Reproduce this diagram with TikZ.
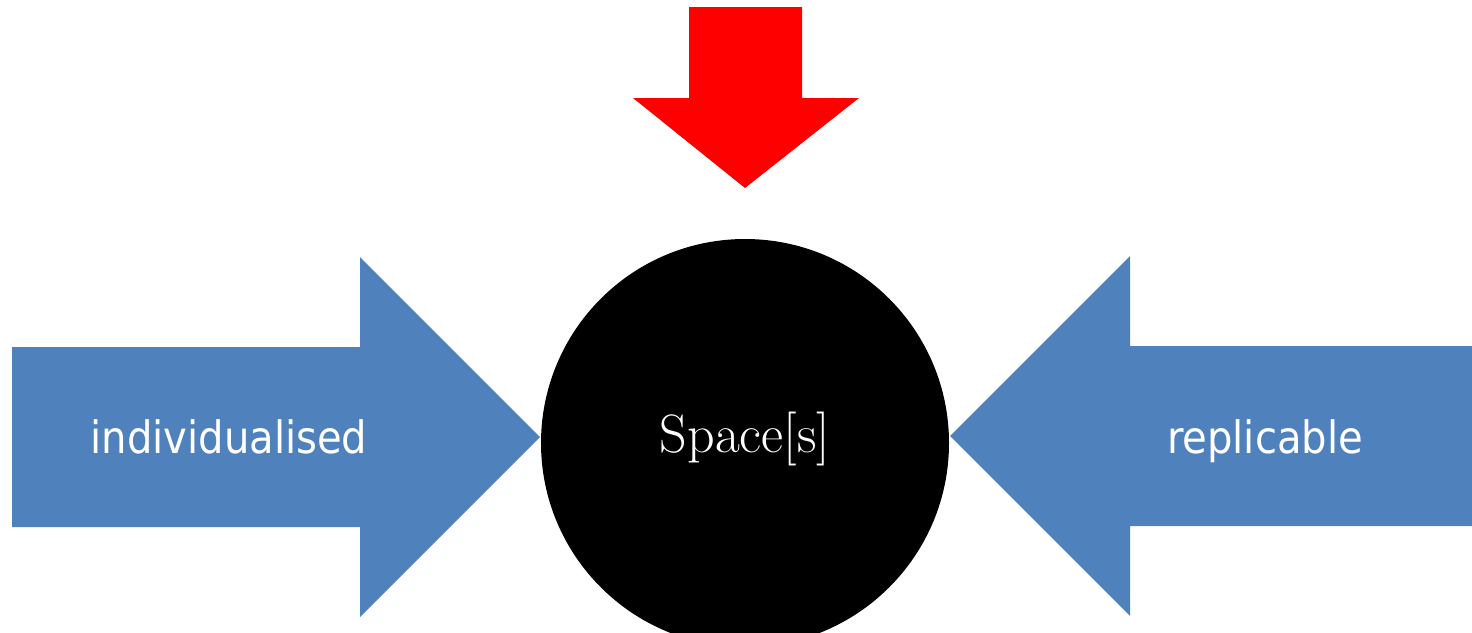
\documentclass[tikz,border=0pt]{standalone}
\usepackage{fontspec}
\newfontfamily\labelfont{DejaVu Sans Condensed}
\definecolor{arrowblue}{HTML}{4F81BD}
\definecolor{arrowred}{HTML}{FF0000}
\tikzset{
  bluearrow/.style={fill=arrowblue},
  redarrow/.style={fill=arrowred},
  sidelabel/.style={anchor=base, text=white, inner sep=0pt, font=\labelfont\fontsize{22.3}{26}\selectfont},
  centrelabel/.style={anchor=base, text=white, inner sep=0pt, font=\fontsize{27}{31}\selectfont}
}
\begin{document}
\begin{tikzpicture}[x=0.5pt,y=-0.5pt]
\path[use as bounding box, clip] (0,0) rectangle (1472,632);
% red arrow (down)
\path[redarrow] (689,7) -- (802,7) -- (802,98) -- (859,98) -- (745,188) -- (633,98) -- (689,98) -- cycle;
% left blue arrow
\path[bluearrow] (12,347) -- (360,347) -- (360,257) -- (540,437) -- (360,617) -- (360,527) -- (12,527) -- cycle;
% right blue arrow
\path[bluearrow] (1472,346) -- (1130,346) -- (1130,256) -- (950,436) -- (1130,616) -- (1130,526) -- (1472,526) -- cycle;
% circle
\fill[black] (745,443) circle[radius=102pt];
% labels
\node[sidelabel] (ind) at (229,453) {individualised};
\node[sidelabel] (rep) at (1265,453) {replicable};
\node[centrelabel] (spc) at (745,452) {Space[s]};
\end{tikzpicture}
\end{document}
